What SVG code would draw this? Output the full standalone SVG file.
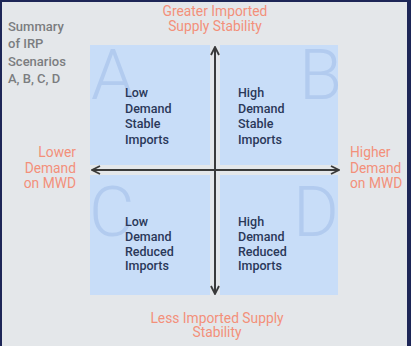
<svg xmlns="http://www.w3.org/2000/svg" width="411" height="346" viewBox="0 0 411 346">
<defs>
<style>
.q{fill:#c8ddf8}
.big{font-family:Roboto,"Liberation Sans",sans-serif;font-weight:300;font-size:70px;fill:#b2cbef}
.lbl{font-family:Roboto,"Liberation Sans",sans-serif;font-size:12.5px;font-weight:500;fill:#2a3858}
.ax{font-family:Roboto,"Liberation Sans",sans-serif;font-size:13.8px;fill:#f3907a}
.sum{font-family:Roboto,"Liberation Sans",sans-serif;font-size:13px;font-weight:500;fill:#7b7d80}
.axis{stroke:#3a3a3a;stroke-width:2;fill:none}
</style>
<marker id="arr" viewBox="0 0 10 10" refX="9" refY="5" markerWidth="5" markerHeight="5" orient="auto-start-reverse" markerUnits="strokeWidth">
<path d="M1,1 L9,5 L1,9" fill="none" stroke="#3a3a3a" stroke-width="1.8"/>
</marker>
</defs>
<rect x="0" y="0" width="411" height="346" fill="#1d2657"/>
<rect x="2" y="2" width="405" height="344" fill="#e4e7ea"/>

<g id="title">
<text class="sum" x="8" y="31">Summary</text>
<text class="sum" x="8" y="48">of IRP</text>
<text class="sum" x="8" y="66">Scenarios</text>
<text class="sum" x="8" y="83">A, B, C, D</text>
</g>

<g id="quadA">
<rect class="q" x="90" y="45" width="120" height="120"/>
<text class="big" x="91" y="99">A</text>
<text class="lbl" x="125" y="97">Low</text>
<text class="lbl" x="125" y="112.5">Demand</text>
<text class="lbl" x="125" y="128">Stable</text>
<text class="lbl" x="125" y="143.5">Imports</text>
</g>
<g id="quadB">
<rect class="q" x="220" y="45" width="118" height="120"/>
<text class="big" x="299" y="99">B</text>
<text class="lbl" x="238" y="97">High</text>
<text class="lbl" x="238" y="112.5">Demand</text>
<text class="lbl" x="238" y="128">Stable</text>
<text class="lbl" x="238" y="143.5">Imports</text>
</g>
<g id="quadC">
<rect class="q" x="90" y="175" width="120" height="120"/>
<text class="big" x="89" y="236">C</text>
<text class="lbl" x="125" y="226">Low</text>
<text class="lbl" x="125" y="241">Demand</text>
<text class="lbl" x="125" y="255.5">Reduced</text>
<text class="lbl" x="125" y="270">Imports</text>
</g>
<g id="quadD">
<rect class="q" x="220" y="175" width="118" height="120"/>
<text class="big" x="293" y="236">D</text>
<text class="lbl" x="238" y="226">High</text>
<text class="lbl" x="238" y="241">Demand</text>
<text class="lbl" x="238" y="255.5">Reduced</text>
<text class="lbl" x="238" y="270">Imports</text>
</g>

<g id="connectors">
<line class="axis" x1="92" y1="170" x2="339" y2="170" marker-start="url(#arr)" marker-end="url(#arr)"/>
<line class="axis" x1="215" y1="47" x2="215" y2="294" marker-start="url(#arr)" marker-end="url(#arr)"/>
</g>

<g id="label-top">
<text class="ax" x="215" y="16" text-anchor="middle">Greater Imported</text>
<text class="ax" x="215" y="31" text-anchor="middle">Supply Stability</text>
</g>
<g id="label-bottom">
<text class="ax" x="217" y="323" text-anchor="middle">Less Imported Supply</text>
<text class="ax" x="217" y="337" text-anchor="middle">Stability</text>
</g>
<g id="label-left">
<text class="ax" x="76" y="157" text-anchor="end">Lower</text>
<text class="ax" x="76" y="172.5" text-anchor="end">Demand</text>
<text class="ax" x="76" y="188" text-anchor="end">on MWD</text>
</g>
<g id="label-right">
<text class="ax" x="350" y="157">Higher</text>
<text class="ax" x="350" y="172.5">Demand</text>
<text class="ax" x="350" y="188">on MWD</text>
</g>
</svg>
